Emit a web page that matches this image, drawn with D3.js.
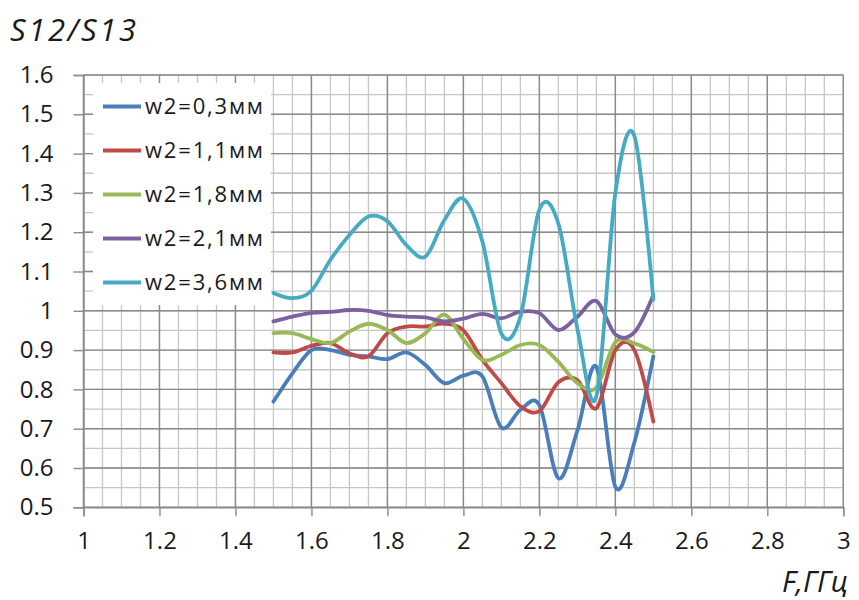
<!DOCTYPE html>
<html>
<head>
<meta charset="utf-8">
<script src="https://cdn.jsdelivr.net/npm/d3@7"></script>
<style>
  html, body { margin: 0; padding: 0; background: #ffffff; }
  svg { display: block; }
  text { font-family: "Open Sans", "Noto Sans", sans-serif; fill: #1a1a1a; }
</style>
</head>
<body>
<svg id="chart" width="859" height="600"></svg>
<script>
// Frequency samples, GHz
const freq = [1.5, 1.55, 1.6, 1.65, 1.7, 1.75, 1.8, 1.85, 1.9, 1.95, 2.0,
              2.05, 2.1, 2.15, 2.2, 2.25, 2.3, 2.35, 2.4, 2.45, 2.5];

// S12/S13 ratio for each strip width
const w03 = [0.769, 0.841, 0.900, 0.900, 0.888, 0.884, 0.877, 0.894, 0.862, 0.816, 0.835,
             0.833, 0.703, 0.748, 0.760, 0.574, 0.695, 0.858, 0.552, 0.665, 0.884];
const w11 = [0.894, 0.894, 0.911, 0.918, 0.892, 0.884, 0.943, 0.960, 0.960, 0.967, 0.950,
             0.875, 0.816, 0.757, 0.745, 0.818, 0.824, 0.752, 0.900, 0.900, 0.718];
const w18 = [0.943, 0.943, 0.928, 0.918, 0.947, 0.967, 0.951, 0.918, 0.943, 0.990, 0.928,
             0.875, 0.888, 0.913, 0.913, 0.870, 0.816, 0.805, 0.920, 0.917, 0.895];
const w21 = [0.973, 0.985, 0.995, 0.997, 1.002, 1.000, 0.989, 0.985, 0.983, 0.973, 0.980,
             0.992, 0.981, 0.998, 0.994, 0.951, 0.985, 1.025, 0.940, 0.945, 1.040];
const w36 = [1.045, 1.032, 1.051, 1.130, 1.193, 1.240, 1.228, 1.167, 1.138, 1.231, 1.285,
             1.176, 0.942, 0.985, 1.258, 1.222, 0.955, 0.782, 1.300, 1.445, 1.028];

const seriesNames = ["w2=0,3мм", "w2=1,1мм", "w2=1,8мм", "w2=2,1мм", "w2=3,6мм"];
const seriesValues = [w03, w11, w18, w21, w36];
const seriesColors = ["#4a7ebb", "#be4b48", "#98b954", "#7d60a0", "#46aac5"];

const xTicks = [1, 1.2, 1.4, 1.6, 1.8, 2, 2.2, 2.4, 2.6, 2.8, 3];
const yTicks = [0.5, 0.6, 0.7, 0.8, 0.9, 1, 1.1, 1.2, 1.3, 1.4, 1.5, 1.6];

const svg = d3.select("#chart");
const plotLeft = 83.5, plotRight = 843.3, plotTop = 75, plotBottom = 507.3;

const x = d3.scaleLinear().domain([1, 3]).range([plotLeft, plotRight]);
const y = d3.scaleLinear().domain([0.5, 1.6]).range([plotBottom, plotTop]);

// Minor grid every 0.05 on both axes
const minorX = d3.range(0, 41).map(i => 1 + i * 0.05);
const minorY = d3.range(0, 23).map(i => 0.5 + i * 0.05);

const grid = svg.append("g");
grid.selectAll("line.mx").data(minorX).join("line")
  .attr("x1", d => x(d)).attr("x2", d => x(d))
  .attr("y1", plotTop).attr("y2", plotBottom)
  .attr("stroke", "#c6c6c6").attr("stroke-width", 1.3);
grid.selectAll("line.my").data(minorY).join("line")
  .attr("x1", plotLeft).attr("x2", plotRight)
  .attr("y1", d => y(d)).attr("y2", d => y(d))
  .attr("stroke", "#c6c6c6").attr("stroke-width", 1.3);

// Major grid
grid.selectAll("line.MX").data(xTicks).join("line")
  .attr("x1", d => x(d)).attr("x2", d => x(d))
  .attr("y1", plotTop).attr("y2", plotBottom)
  .attr("stroke", "#8a8a8a").attr("stroke-width", 1.4);
grid.selectAll("line.MY").data(yTicks).join("line")
  .attr("x1", plotLeft).attr("x2", plotRight)
  .attr("y1", d => y(d)).attr("y2", d => y(d))
  .attr("stroke", "#8a8a8a").attr("stroke-width", 1.4);

// Axes
const xAxis = d3.axisBottom(x).tickValues(xTicks).tickSize(9).tickPadding(16)
  .tickFormat(d => d3.format("~g")(d));
const yAxis = d3.axisLeft(y).tickValues(yTicks).tickSize(10).tickPadding(20)
  .tickFormat(d => d3.format("~g")(d));

const gx = svg.append("g").attr("transform", `translate(0,${plotBottom})`).call(xAxis);
const gy = svg.append("g").attr("transform", `translate(${plotLeft},0)`).call(yAxis);
[gx, gy].forEach(g => {
  g.select(".domain").attr("stroke", "#8a8a8a").attr("stroke-width", 1.4);
  g.selectAll(".tick line").attr("stroke", "#8a8a8a").attr("stroke-width", 1.4);
  g.selectAll(".tick text").attr("font-size", 24)
    .attr("font-family", "'Open Sans', sans-serif").attr("fill", "#1a1a1a");
});

// Curves
const line = d3.line()
  .x((d, i) => x(freq[i]))
  .y(d => y(d))
  .curve(d3.curveCardinal.tension(0));

svg.append("g").selectAll("path").data(seriesValues).join("path")
  .attr("d", d => line(d))
  .attr("fill", "none")
  .attr("stroke", (d, i) => seriesColors[i])
  .attr("stroke-width", 3.8)
  .attr("stroke-linejoin", "round")
  .attr("stroke-linecap", "round");

// Legend
const legend = svg.append("g");
legend.append("rect")
  .attr("x", 93).attr("y", 83).attr("width", 178).attr("height", 222)
  .attr("fill", "#ffffff");
const items = legend.selectAll("g").data(seriesNames).join("g")
  .attr("transform", (d, i) => `translate(0,${106.5 + i * 44})`);
items.append("line")
  .attr("x1", 103).attr("x2", 141).attr("y1", 0).attr("y2", 0)
  .attr("stroke", (d, i) => seriesColors[i]).attr("stroke-width", 3.8);
items.append("text")
  .attr("x", 145).attr("y", 0).attr("dy", "0.36em")
  .attr("font-size", 22)
  .attr("textLength", 118).attr("lengthAdjust", "spacing")
  .text(d => d);

// Axis titles
svg.append("text")
  .attr("x", 10).attr("y", 41)
  .attr("font-size", 31).attr("font-style", "italic")
  .attr("textLength", 126).attr("lengthAdjust", "spacing")
  .text("S12/S13");
svg.append("text")
  .attr("x", 782).attr("y", 592)
  .attr("font-size", 29).attr("font-style", "italic")
  .attr("textLength", 66).attr("lengthAdjust", "spacing")
  .text("F,ГГц");
</script>
</body>
</html>
